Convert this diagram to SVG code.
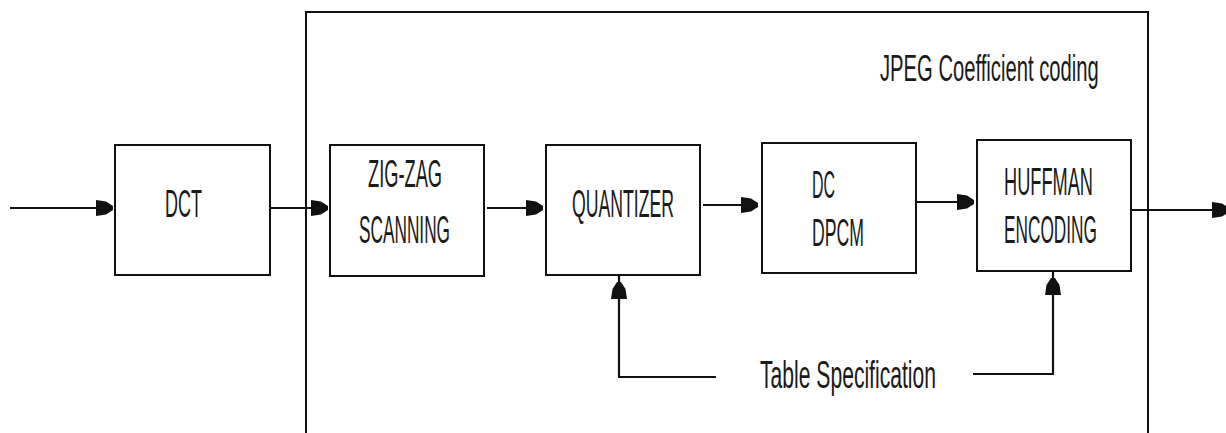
<svg xmlns="http://www.w3.org/2000/svg" xmlns:xlink="http://www.w3.org/1999/xlink" width="1226" height="433" viewBox="0 0 1226 433">
  <style>
    .box { fill: #ffffff; stroke: #111111; stroke-width: 2; }
    .frame { fill: none; stroke: #111111; stroke-width: 2; }
    .wire { fill: none; stroke: #111111; stroke-width: 2.2; }
    .lbl { font-family: "Liberation Sans", Arial, sans-serif; font-size: 38px; fill: #1a1a1a; }
    .title { font-family: "Liberation Sans", Arial, sans-serif; font-size: 36px; fill: #1a1a1a; }
  </style>
  <defs>
    <!-- filled arrowhead, tip at origin pointing +x -->
    <path id="ah" d="M-17,-8 L-7,-6.5 L0,-2 L0,2 L-7,6.5 L-17,8 Z" fill="#111111"/>
  </defs>

  <!-- coefficient coding frame (runs off the bottom edge) -->
  <g id="frame">
    <path class="frame" d="M306,433 V12 H1148 V433"/>
    <!-- condensed title: natural width ~390px squeezed to ~219px -->
    <text class="title" transform="translate(880,81) scale(0.5615,1)" x="0" y="0">JPEG Coefficient coding</text>
  </g>

  <g id="dct">
    <rect class="box" x="115" y="145" width="155" height="130"/>
    <text class="lbl" x="165" y="217" textLength="37" lengthAdjust="spacingAndGlyphs">DCT</text>
  </g>

  <g id="zigzag">
    <rect class="box" x="330" y="145" width="154" height="131"/>
    <text class="lbl" x="368" y="187" textLength="74" lengthAdjust="spacingAndGlyphs">ZIG-ZAG</text>
    <text class="lbl" x="359" y="243" textLength="91" lengthAdjust="spacingAndGlyphs">SCANNING</text>
  </g>

  <g id="quantizer">
    <rect class="box" x="546" y="145" width="154" height="130"/>
    <text class="lbl" x="572" y="217" textLength="102" lengthAdjust="spacingAndGlyphs">QUANTIZER</text>
  </g>

  <g id="dpcm">
    <rect class="box" x="762" y="143" width="154" height="130"/>
    <text class="lbl" x="812" y="198" textLength="23" lengthAdjust="spacingAndGlyphs">DC</text>
    <text class="lbl" x="812" y="246" textLength="52" lengthAdjust="spacingAndGlyphs">DPCM</text>
  </g>

  <g id="huffman">
    <rect class="box" x="977" y="140" width="154" height="131"/>
    <text class="lbl" x="1004" y="195" textLength="89" lengthAdjust="spacingAndGlyphs">HUFFMAN</text>
    <text class="lbl" x="1004" y="243" textLength="93" lengthAdjust="spacingAndGlyphs">ENCODING</text>
  </g>

  <g id="tablespec">
    <text class="lbl" x="760" y="388" textLength="176" lengthAdjust="spacingAndGlyphs">Table Specification</text>
  </g>

  <g id="connectors">
    <path class="wire" d="M10,208 H110"/>
    <use xlink:href="#ah" href="#ah" transform="translate(113,208)"/>

    <path class="wire" d="M270,208 H325"/>
    <use xlink:href="#ah" href="#ah" transform="translate(328,208)"/>

    <path class="wire" d="M487,208 H540"/>
    <use xlink:href="#ah" href="#ah" transform="translate(543,208)"/>

    <path class="wire" d="M703,205 H755"/>
    <use xlink:href="#ah" href="#ah" transform="translate(758,205)"/>

    <path class="wire" d="M917,202 H971"/>
    <use xlink:href="#ah" href="#ah" transform="translate(974,202)"/>

    <path class="wire" d="M1131,210 H1226"/>
    <use xlink:href="#ah" href="#ah" transform="translate(1229,210)"/>

    <!-- table specification feeds -->
    <path class="wire" d="M716,377 H619 V276"/>
    <use xlink:href="#ah" href="#ah" transform="translate(619,282) rotate(-90)"/>

    <path class="wire" d="M973,374 H1053 V272"/>
    <use xlink:href="#ah" href="#ah" transform="translate(1053,278) rotate(-90)"/>
  </g>
</svg>
